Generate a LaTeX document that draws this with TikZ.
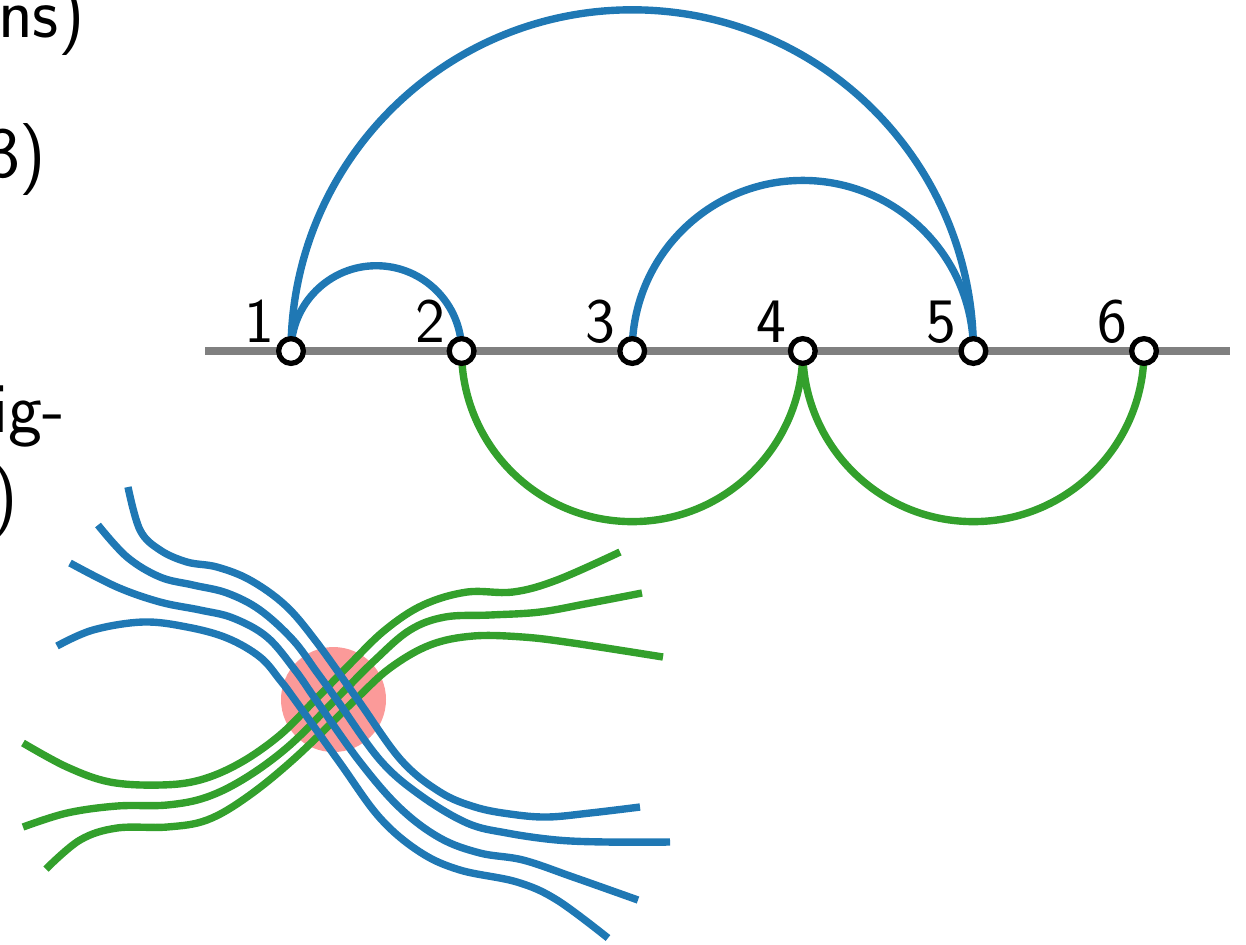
\documentclass[tikz,border=0pt]{standalone}
\usepackage{xcolor}
\usepackage{tikz}
\usetikzlibrary{backgrounds}
\definecolor{pairblue}{HTML}{1F78B4}
\definecolor{pairgreen}{HTML}{33A02C}
\definecolor{pairpink}{HTML}{FB9A99}
\begin{document}
\begin{tikzpicture}[x=0.01cm, y=-0.01cm,
  strand/.style={line width=2.1pt},
  vert/.style={circle, draw=black, fill=white, line width=1.5pt,
    minimum size=0.247cm, inner sep=0pt},
  idx/.style={font=\sffamily\fontsize{18}{22}\selectfont,
    inner sep=0pt, anchor=base east},
  margin/.style={font=\sffamily\fontsize{20.5}{25}\selectfont,
    inner sep=0pt, anchor=base east}]
  \useasboundingbox (0,0) rectangle (1246,944);
  \clip (0,0) rectangle (1246,944);
  % ============= clipped caption column (left) =============
  \node[margin] (capa) at (86,37)  {ns)};
  \node[margin] (capb) at (47,177) {3)};
  \node[margin] (capc) at (66,432) {ig-};
  \node[margin] (capd) at (19,519) {)};
  % ============= Panel 1: arc diagram =============
  \foreach \i in {1,...,6}
    \node[vert] (p\i) at ({291+170.6*(\i-1)},351) {};
  \foreach \i in {1,...,6}
    \node[idx] (l\i) at ([shift={(-16,-9)}]p\i.center) {\i};
  \begin{scope}[on background layer]
    \draw[strand, gray] (205,351) -- (1230,351);
    % blue arcs above the line
    \draw[strand, pairblue] (p1.center) arc[start angle=180, end angle=360, radius=85.3];
    \draw[strand, pairblue] (p1.center) arc[start angle=180, end angle=360, radius=341.2];
    \draw[strand, pairblue] (p3.center) arc[start angle=180, end angle=360, radius=170.6];
    % green arcs below the line
    \draw[strand, pairgreen] (p2.center) arc[start angle=180, end angle=0, radius=170.6];
    \draw[strand, pairgreen] (p4.center) arc[start angle=180, end angle=0, radius=170.6];
  \end{scope}
  % ============= Panel 2: crossing bundle =============
  \fill[pairpink] (333.5,699.5) circle[radius=52.5];
  % green strands, lower left -> upper right
  \draw[strand, pairgreen] plot[smooth, tension=0.6] coordinates {
    (23,743) (67,767) (110,782) (160,785) (200,780) (240,763) (280,735)
    (315,700) (350,664) (385,630) (423,605) (467,592) (513,592) (557,580) (620,552)};
  \draw[strand, pairgreen] plot[smooth, tension=0.6] coordinates {
    (23,827) (67,813) (117,806) (167,805) (207,797) (247,777) (290,745)
    (335,700) (375,660) (410,630) (445,617) (490,615) (540,612) (590,603) (642,593)};
  \draw[strand, pairgreen] plot[smooth, tension=0.6] coordinates {
    (46,869) (80,840) (117,828) (167,827) (207,820) (247,797) (295,758)
    (355,700) (390,668) (430,645) (473,636) (523,637) (573,643) (663,657)};
  % blue strands, upper left -> lower right
  \draw[strand, pairblue] plot[smooth, tension=0.6] coordinates {
    (128,487) (140,530) (160,550) (187,562) (217,567) (250,580) (285,605)
    (315,640) (358,700) (401,760) (440,792) (475,807) (510,814) (547,817)
    (590,813) (640,807)};
  \draw[strand, pairblue] plot[smooth, tension=0.6] coordinates {
    (98,525) (127,557) (160,577) (193,585) (227,593) (260,610) (293,640)
    (316,671) (337,700) (380,760) (420,795) (467,823) (507,833) (557,840)
    (607,842) (670,842)};
  \draw[strand, pairblue] plot[smooth, tension=0.6] coordinates {
    (70,563) (117,587) (160,602) (200,610) (233,618) (267,637) (295,670)
    (316,700) (360,762) (400,808) (440,838) (480,853) (523,860) (573,877)
    (638,900)};
  \draw[strand, pairblue] plot[smooth, tension=0.6] coordinates {
    (57,646) (93,630) (143,622) (187,627) (227,638) (260,657) (280,680)
    (295,700) (340,763) (380,818) (420,852) (460,870) (517,882) (557,900)
    (608,938)};
\end{tikzpicture}
\end{document}
